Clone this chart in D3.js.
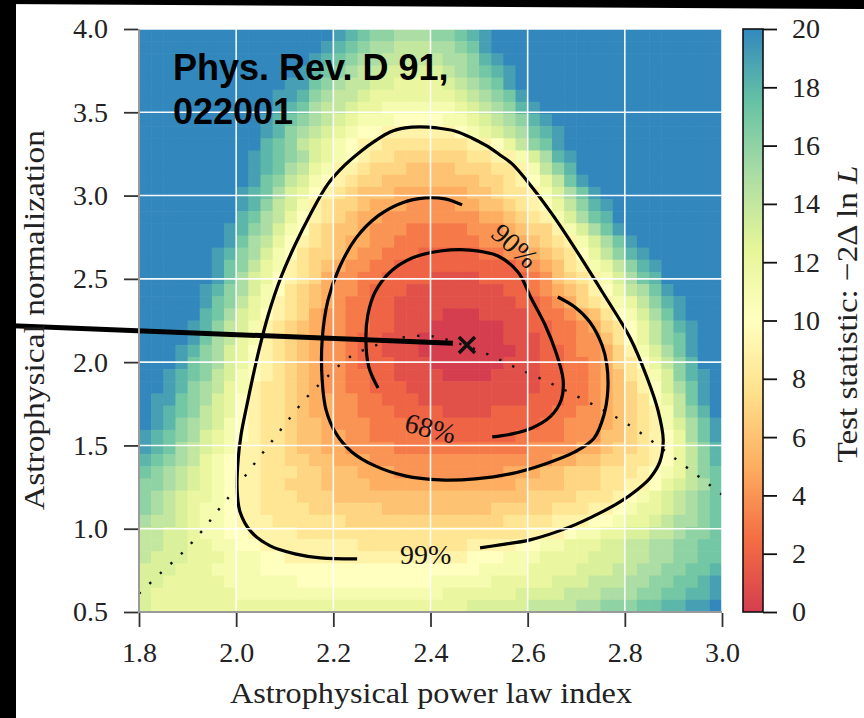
<!DOCTYPE html>
<html><head><meta charset="utf-8">
<script src="https://cdn.jsdelivr.net/npm/d3@7"></script>
<style>
html,body{margin:0;padding:0;background:#fff;}
svg{display:block;}
</style></head>
<body>
<svg id="chart" width="864" height="718"></svg>
<script>
// ---------------- data ----------------
const xDomain = [1.8, 3.0];
const yDomain = [0.5, 4.0];
const xTicks = [1.8, 2.0, 2.2, 2.4, 2.6, 2.8, 3.0];
const yTicks = [0.5, 1.0, 1.5, 2.0, 2.5, 3.0, 3.5, 4.0];
const cbTicks = [0, 2, 4, 6, 8, 10, 12, 14, 16, 18, 20];
const cbDomain = [0, 20];
const colorStops = [0, 2.5, 5, 7.5, 10, 12.5, 15, 17.5, 20];
const spectralColors = ["#d53e4f","#f46d43","#fdae61","#fee08b","#ffffbf","#e6f598","#abdda4","#66c2a5","#3288bd"];

// Test statistic per cell, one character per cell: 0-9 then a=10 ... k=20 (20 = saturated)
// Each row lists the cells from heatStart[row]; cells outside the listed run are saturated (>=20).
const tsCode = "0123456789abcdefghijk";
const nCols = 48;
const heatStart = [16,15,14,13,12,11,11,10,10,10,9,9,9,8,8,8,7,7,6,6,6,5,5,5,4,4,3,3,2,2,1,1,1,0,0,0,0,0,0,0,0,0,0,0,0,0,0,0];
const heatRows = [
 "jihggfffgghij",
 "jihgffeeeffghj",
 "jihgffeeeeeffgij",
 "jihgfeedddddefghij",
 "jjhgfeeddccccdefghj",
 "jjigfeedcccccccdefghj",
 "jihfeedccbbbbbbcdefgij",
 "jihgfedcbbbaaaabbcdefgij",
 "jigfedcbaa999999abcdefhij",
 "ihgedcba99"+"8888888"+"99aceghj",
 "jihgfdcba"+"9887777778899"+"bdfij",
 "jihfecb9"+"987776666777889"+"begi",
 "jhgedba"+"9877666666667789"+"acehj",
 "jihfdca"+"987666555555667889"+"bdfhj",
 "jigedb9"+"877655544445566789"+"acegij",
 "ihfeca"+"98765544444444556789"+"bdfhi",
 "jigfdba"+"876654443333344456779"+"bdfhj",
 "jhfeca"+"98765544333333344556789"+"bdfhj",
 "jigfdba"+"87765443332222233445678"+"acegij",
 "jhgecb"+"98765"+"4433"+"22222"+"22222"+"345689"+"bcegij",
 "jhfdca"+"9875"+"4433"+"222211112222"+"346789"+"bdfhi",
 "jigfdba"+"8765"+"4432"+"221111111122"+"345679"+"acefhj",
 "jhgecb"+"98765"+"433"+"22111111111122"+"345789"+"bcegij",
 "ihfdca"+"9875"+"4433"+"22111100011112"+"334568"+"abdfhj",
 "jigedb9"+"8765"+"4433"+"221110000001122"+"334578"+"acegij",
 "jhfecb"+"98765"+"4432"+"211100000001112"+"334468"+"aceghj",
 "jigfdca"+"98765"+"4432"+"2111000000001122"+"344579"+"bdfhj",
 "jhgfdca"+"98765"+"4432"+"2211100000011122"+"334578"+"acegi",
 "jihgedba"+"98765"+"4433"+"2211110000111122"+"3345689"+"bdgij",
 "jigfecb9"+"88765"+"44332"+"221111111111122"+"3345679"+"adfhj",
 "jjhgfdca"+"988765"+"54433"+"222111111111222"+"3345678"+"acehj",
 "jihgedca"+"9887655"+"44333"+"2222111122222"+"334456789"+"begi",
 "jigfedba"+"9887665"+"4443332"+"22222"+"22222"+"3344456789"+"bdfhj",
 "jihgfdcba"+"9887665"+"54433333"+"2222222"+"3333444"+"66789"+"acfhj",
 "jihfedcb9"+"98876655"+"4444"+"33333"+"333333"+"4444"+"5"+"567789"+"acegi",
 "ihgfecba"+"9988776655"+"5"+"44444"+"44444"+"44444"+"5"+"56677889"+"acegi",
 "hgfedcba"+"9988877666555"+"4444444445"+"55667778889"+"abcegh",
 "ggfedcba"+"99887776666"+"555555"+"555555"+"66667778899"+"acdefh",
 "gfedccba"+"99888777"+"66666666"+"66666666"+"77778889"+"abcdefgh",
 "gfedcbba"+"998888777777"+"666666666"+"7777788899"+"abccdefgh",
 "feedcbba9"+"99888888"+"7777777"+"777777"+"8888999"+"aabccdeffgh",
 "eeddcbbaa"+"9999"+"8888888888"+"888888888"+"999"+"abbccddeefggh",
 "eeddccbbaa9"+"9999999"+"888888888"+"9999"+"aabbcccddeeffgghh",
 "edddcccbbbaa9"+"9999999"+"9999999"+"aaabbbccccdddeeffgghh",
 "dddcccbbbbaa"+"aaaaaaaa"+"aaaaaaaa"+"bbbbccccdddeeffgghhi",
 "ddcccccbbbbbb"+"aaaaaaaaaaa"+"bbbbbccccc"+"dddeeeffgghhij",
 "dccccccc"+"bbbbbbbbb"+"bbbbbbbb"+"cccccc"+"ddddeeefffgghhiij",
 "d"+"ccccccccc"+"ccccccccc"+"cccccccc"+"dddddeeeeffggghhiijjk"
];

// confidence contours (index, normalization)
const contour68 = [[2.292,1.845],[2.273,1.971],[2.267,2.133],[2.271,2.283],[2.286,2.421],[2.317,2.541],[2.362,2.625],[2.420,2.667],[2.481,2.673],[2.539,2.637],[2.580,2.541],[2.607,2.385],[2.636,2.223],[2.658,2.061],[2.673,1.893],[2.669,1.773],[2.646,1.671],[2.609,1.605],[2.568,1.569],[2.527,1.551]];
const contour90 = [[2.465,2.944],[2.430,2.980],[2.389,2.986],[2.341,2.956],[2.292,2.878],[2.247,2.746],[2.212,2.565],[2.189,2.373],[2.177,2.133],[2.177,1.893],[2.185,1.713],[2.206,1.569],[2.238,1.461],[2.286,1.377],[2.348,1.317],[2.420,1.293],[2.492,1.299],[2.564,1.329],[2.636,1.389],[2.697,1.461],[2.737,1.545],[2.757,1.683],[2.765,1.833],[2.763,1.983],[2.753,2.103],[2.728,2.241],[2.697,2.331],[2.662,2.391]];
const contour99 = [[2.249,0.819],[2.173,0.825],[2.121,0.849],[2.070,0.897],[2.031,0.981],[2.008,1.101],[2.002,1.233],[2.004,1.413],[2.010,1.563],[2.020,1.713],[2.033,1.893],[2.047,2.073],[2.066,2.283],[2.090,2.493],[2.121,2.703],[2.152,2.884],[2.189,3.070],[2.224,3.184],[2.255,3.262],[2.286,3.328],[2.317,3.382],[2.348,3.406],[2.378,3.412],[2.413,3.406],[2.450,3.388],[2.485,3.346],[2.516,3.298],[2.543,3.244],[2.568,3.190],[2.607,3.058],[2.650,2.890],[2.697,2.685],[2.755,2.415],[2.811,2.145],[2.846,1.905],[2.868,1.713],[2.879,1.533],[2.872,1.401],[2.852,1.305],[2.825,1.233],[2.790,1.161],[2.749,1.095],[2.687,1.011],[2.605,0.933],[2.543,0.903],[2.502,0.885]];
const contourLabels = [
  {text:"68%", x:2.40, y:1.605, angle:14},
  {text:"90%", x:2.574, y:2.70, angle:42},
  {text:"99%", x:2.39, y:0.85, angle:0}
];
// dotted curve
const dottedCurve = [[1.800,0.610],[1.845,0.735],[1.889,0.855],[1.928,0.981],[1.965,1.119],[2.000,1.245],[2.037,1.389],[2.074,1.527],[2.109,1.659],[2.146,1.791],[2.185,1.905],[2.234,2.031],[2.290,2.103],[2.337,2.145],[2.399,2.157],[2.455,2.115],[2.512,2.055],[2.570,1.975],[2.646,1.875],[2.728,1.755],[2.805,1.629],[2.899,1.431],[3.000,1.205]];
// best fit marker and annotation line
const bestFit = [2.475, 2.103];
const annotLine = [[1.514, 2.222], [2.446, 2.113]];
const citation = ["Phys. Rev. D 91,", "022001"];

// ---------------- drawing ----------------
const svg = d3.select("#chart");
const W = 864, H = 718;
const P = {left:139, right:722, top:29, bottom:612};
const x = d3.scaleLinear().domain(xDomain).range([P.left, P.right]);
const y = d3.scaleLinear().domain(yDomain).range([P.bottom, P.top]);
const color = d3.scaleLinear().domain(colorStops).range(spectralColors).clamp(true);
const serif = "'Liberation Serif','Times New Roman',serif";

svg.append("rect").attr("width", W).attr("height", H).attr("fill", "#fff");

const defs = svg.append("defs");
defs.append("clipPath").attr("id","plotclip").append("rect")
  .attr("x", P.left).attr("y", P.top).attr("width", P.right-P.left).attr("height", P.bottom-P.top);

const plotG = svg.append("g").attr("clip-path","url(#plotclip)");

// heatmap
const nRows = heatRows.length;
const dx = (xDomain[1]-xDomain[0])/nCols, dy = (yDomain[1]-yDomain[0])/nRows;
const cells = [];
heatRows.forEach((seg, r) => {
  for (let i = 0; i < nCols; i++) {
    const j = i - heatStart[r];
    const ch = (j >= 0 && j < seg.length) ? seg[j] : "k";
    cells.push({i, r, v: tsCode.indexOf(ch)});
  }
});
plotG.append("g").selectAll("rect").data(cells).join("rect")
  .attr("x", d => x(xDomain[0] + d.i*dx))
  .attr("y", d => y(yDomain[1] - d.r*dy))
  .attr("width", d => x(xDomain[0] + (d.i+1)*dx) - x(xDomain[0] + d.i*dx) + 0.6)
  .attr("height", d => y(yDomain[1] - (d.r+1)*dy) - y(yDomain[1] - d.r*dy) + 0.6)
  .attr("fill", d => color(d.v));

// grid
const gridG = svg.append("g").attr("stroke", "#fff").attr("stroke-width", 1.6).attr("opacity", 0.95);
gridG.selectAll("line.gx").data(xTicks).join("line")
  .attr("x1", d => x(d)).attr("x2", d => x(d)).attr("y1", P.top).attr("y2", P.bottom);
gridG.selectAll("line.gy").data(yTicks).join("line")
  .attr("y1", d => y(d)).attr("y2", d => y(d)).attr("x1", P.left).attr("x2", P.right);

// dotted curve
const lineGen = d3.line().x(d => x(d[0])).y(d => y(d[1])).curve(d3.curveCatmullRom.alpha(0.5));
plotG.append("path").attr("d", lineGen(dottedCurve))
  .attr("fill","none").attr("stroke","#111").attr("stroke-width",2.4)
  .attr("stroke-dasharray","2.4 12");

// contours
[contour68, contour90, contour99].forEach(c => {
  plotG.append("path").attr("d", lineGen(c))
    .attr("fill","none").attr("stroke","#000").attr("stroke-width",3.2)
    .attr("stroke-linecap","butt").attr("stroke-linejoin","round");
});
contourLabels.forEach(l => {
  svg.append("text")
    .attr("transform", `translate(${x(l.x)},${y(l.y)}) rotate(${l.angle})`)
    .attr("text-anchor","middle").attr("dy","0.35em")
    .attr("font-family", serif).attr("font-size", 28).attr("fill","#111")
    .text(l.text);
});

// annotation line and best-fit marker
svg.append("line")
  .attr("x1", x(annotLine[0][0])).attr("y1", y(annotLine[0][1]))
  .attr("x2", x(annotLine[1][0])).attr("y2", y(annotLine[1][1]))
  .attr("stroke","#000").attr("stroke-width",5);
svg.append("path")
  .attr("transform", `translate(${x(bestFit[0])},${y(bestFit[1])})`)
  .attr("d","M-8,-8L8,8M-8,8L8,-8")
  .attr("stroke","#111").attr("stroke-width",3.6).attr("fill","none");

// spines (left/bottom grey)
svg.append("line").attr("x1",P.left).attr("x2",P.left).attr("y1",P.top).attr("y2",P.bottom+1)
  .attr("stroke","#9a9a9a").attr("stroke-width",2);
svg.append("line").attr("x1",P.left-1).attr("x2",P.right).attr("y1",P.bottom).attr("y2",P.bottom)
  .attr("stroke","#9a9a9a").attr("stroke-width",2);

// axes
const xAxis = d3.axisBottom(x).tickValues(xTicks).tickFormat(d3.format(".1f")).tickSize(14).tickPadding(15).tickSizeOuter(0);
const yAxis = d3.axisLeft(y).tickValues(yTicks).tickFormat(d3.format(".1f")).tickSize(14).tickPadding(16).tickSizeOuter(0);
const gx = svg.append("g").attr("transform", `translate(0,${P.bottom+1})`).call(xAxis);
const gy = svg.append("g").attr("transform", `translate(${P.left-1},0)`).call(yAxis);
[gx, gy].forEach(g => {
  g.select(".domain").remove();
  g.selectAll(".tick line").attr("stroke","#333").attr("stroke-width",1.8);
  g.selectAll(".tick text").attr("font-family", serif).attr("font-size", 28).attr("fill","#222");
});

// axis labels
svg.append("text").attr("x", 431).attr("y", 703).attr("text-anchor","middle")
  .attr("font-family", serif).attr("font-size", 30).attr("fill","#222")
  .attr("textLength", 402).attr("lengthAdjust","spacingAndGlyphs")
  .text("Astrophysical power law index");
svg.append("text").attr("transform","translate(44,320) rotate(-90)").attr("text-anchor","middle")
  .attr("font-family", serif).attr("font-size", 30).attr("fill","#222")
  .attr("textLength", 380).attr("lengthAdjust","spacingAndGlyphs")
  .text("Astrophysical normalization");

// colorbar
const CB = {x0:743, x1:763};
const cy = d3.scaleLinear().domain(cbDomain).range([P.bottom, P.top]);
const grad = defs.append("linearGradient").attr("id","cbgrad")
  .attr("x1",0).attr("y1",1).attr("x2",0).attr("y2",0);
colorStops.forEach((s,i) => grad.append("stop")
  .attr("offset", (s - cbDomain[0])/(cbDomain[1]-cbDomain[0])).attr("stop-color", spectralColors[i]));
svg.append("rect").attr("x", CB.x0).attr("y", cy(cbDomain[1])).attr("width", CB.x1-CB.x0)
  .attr("height", cy(cbDomain[0]) - cy(cbDomain[1]))
  .attr("fill","url(#cbgrad)").attr("stroke","#111").attr("stroke-width",1.6);
const cAxis = d3.axisRight(cy).tickValues(cbTicks).tickSize(14).tickPadding(15).tickSizeOuter(0);
const gc = svg.append("g").attr("transform", `translate(${CB.x1},0)`).call(cAxis);
gc.select(".domain").remove();
gc.selectAll(".tick line").attr("stroke","#111").attr("stroke-width",1.8);
gc.selectAll(".tick text").attr("font-family", serif).attr("font-size", 28).attr("fill","#222");

const cbl = svg.append("text").attr("transform","translate(857,314) rotate(-90)").attr("text-anchor","middle")
  .attr("font-family", serif).attr("font-size", 30).attr("fill","#222")
  .attr("textLength", 297).attr("lengthAdjust","spacingAndGlyphs");
cbl.append("tspan").text("Test statistic:  \u22122\u0394 ln ");
cbl.append("tspan").attr("font-style","italic").text("L");

// citation text
citation.forEach((t, i) => {
  svg.append("text").attr("x", 173).attr("y", 80 + i*44)
    .attr("font-family","'Liberation Sans',Arial,sans-serif").attr("font-weight","bold")
    .attr("font-size", 36).attr("fill","#000").text(t);
});

// black frame remnants (screenshot border)
svg.append("rect").attr("x",0).attr("y",0).attr("width",16).attr("height",H).attr("fill","#000");
svg.append("polygon").attr("points","0,0 864,0 864,9 0,4").attr("fill","#000");
</script>
</body></html>
